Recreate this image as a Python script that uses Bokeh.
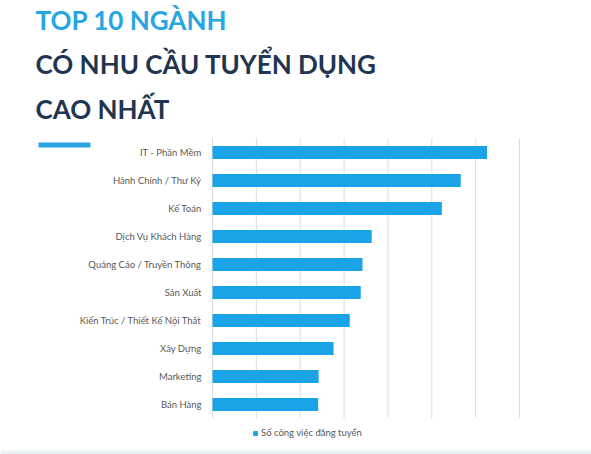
from bokeh.plotting import figure
from bokeh.models import Range1d, Legend, LegendItem, ColumnDataSource
from bokeh.core.properties import value
from bokeh.embed import file_html
from bokeh.resources import INLINE

# Top 10 industries by number of job postings
categories = [
    "IT - Phần Mềm",
    "Hành Chính / Thư Ký",
    "Kế Toán",
    "Dịch Vụ Khách Hàng",
    "Quảng Cáo / Truyền Thông",
    "Sản Xuất",
    "Kiến Trúc / Thiết Kế Nội Thất",
    "Xây Dựng",
    "Marketing",
    "Bán Hàng",
]
postings = [6260, 5660, 5230, 3630, 3420, 3380, 3130, 2760, 2420, 2410]
grid_ticks = [0, 1000, 2000, 3000, 4000, 5000, 6000, 7000]
series_name = "Số công việc đăng tuyển"
title_lines = ["TOP 10 NGÀNH", "CÓ NHU CẦU TUYỂN DỤNG", "CAO NHẤT"]

BAR = "#1aa3e6"
TITLE_BLUE = "#27a6e1"
NAVY = "#1f3551"
LABEL_GRAY = "#595959"
GRID = "#dcdcdc"

W, H = 591, 454
# chart area inside the canvas (pixels)
CH_LEFT, CH_RIGHT, CH_TOP, CH_BOTTOM = 212, 519, 138, 418

n = len(categories)
row_px = (CH_BOTTOM - CH_TOP) / n
x_per_px = (grid_ticks[-1] - grid_ticks[0]) / (CH_RIGHT - CH_LEFT)

# value axis spans the whole canvas; rows are numbered bottom-up
x_range = Range1d(-CH_LEFT * x_per_px, (W - CH_LEFT) * x_per_px)
y_range = Range1d(-0.5 - (H - CH_BOTTOM) / row_px, n - 0.5 + CH_TOP / row_px)

p = figure(
    width=W, height=H, x_range=x_range, y_range=y_range,
    output_backend="svg", toolbar_location=None,
    min_border=0, x_axis_type=None, y_axis_type=None,
)
p.outline_line_color = None
p.grid.visible = False
p.background_fill_color = "white"
p.border_fill_color = "white"

# pixel space for the heading
p.extra_x_ranges = {"px": Range1d(0, W)}
p.extra_y_ranges = {"px": Range1d(H, 0)}

rows = list(range(n - 1, -1, -1))
src = ColumnDataSource(dict(cat=categories, val=postings, row=rows))

# vertical gridlines over the chart band
p.segment(x0=grid_ticks, x1=grid_ticks,
          y0=[-0.5] * len(grid_ticks), y1=[n - 0.5] * len(grid_ticks),
          line_color=GRID, line_width=1)

r = p.hbar(y="row", right="val", left=0, height=0.47, source=src,
           fill_color=BAR, line_color=None)

# category labels, right aligned left of the zero line
p.text(x=0, y="row", text="cat", source=src, x_offset=-11,
       text_align="right", text_baseline="middle",
       text_font=value("Lato"), text_font_size="9.5px",
       text_color=LABEL_GRAY)

# heading
title_y = [19, 63, 108]
title_colors = [TITLE_BLUE, NAVY, NAVY]
p.text(x=[35] * 3, y=title_y, text=title_lines,
       x_range_name="px", y_range_name="px",
       text_color=title_colors, text_font=value("Lato"),
       text_font_style="bold", text_font_size="26px",
       text_baseline="alphabetic", text_align="left")
p.quad(left=38, right=90, top=142, bottom=147,
       x_range_name="px", y_range_name="px",
       fill_color=TITLE_BLUE, line_color=None)

# faint band along the bottom edge
p.quad(left=0, right=W, top=450, bottom=H,
       x_range_name="px", y_range_name="px",
       fill_color="#e9f3f7", line_color=None)

legend = Legend(
    items=[LegendItem(label=series_name, renderers=[r])],
    location=(252, 16), orientation="horizontal",
    glyph_width=6, glyph_height=6, label_standoff=3,
    label_text_font="Lato", label_text_font_size="9.5px",
    label_text_color=LABEL_GRAY, border_line_color=None,
    background_fill_alpha=0, padding=0, margin=0,
)
p.add_layout(legend, "center")

open("out.html", "w").write(file_html(p, INLINE))
